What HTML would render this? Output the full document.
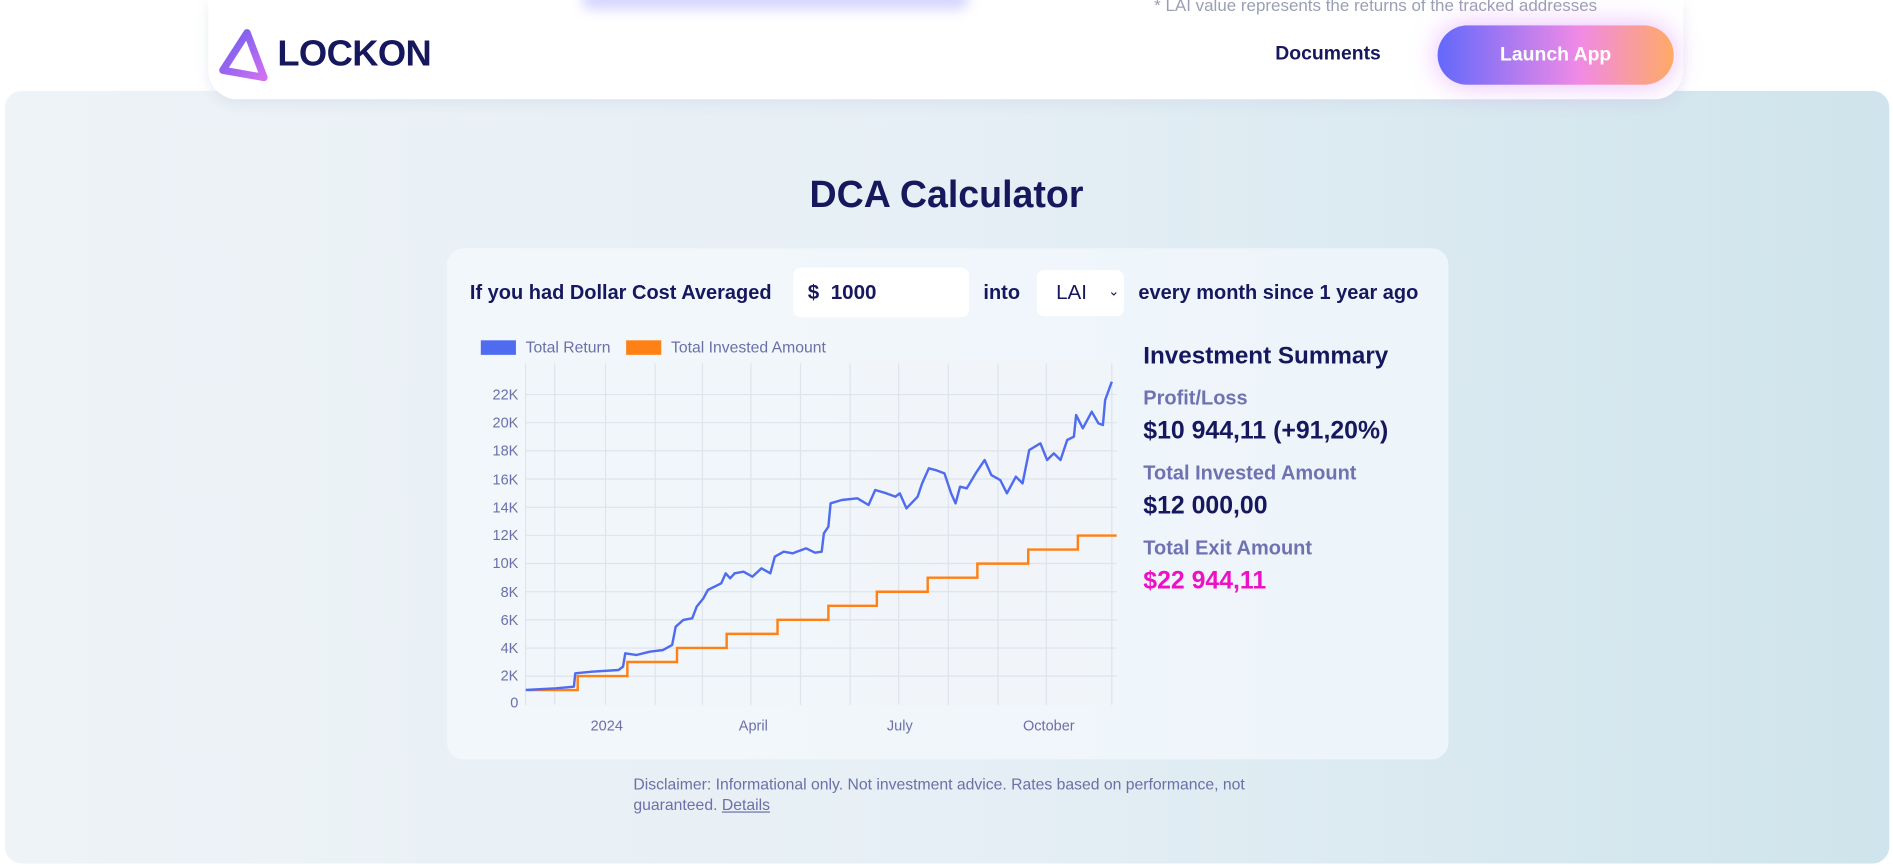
<!DOCTYPE html>
<html><head><meta charset="utf-8">
<style>
html,body{margin:0;padding:0;width:1893px;height:866px;overflow:hidden;background:#fff;font-family:"Liberation Sans",sans-serif;}
#w{position:absolute;left:0;top:0;width:1563px;height:715px;transform:scale(1.2111);transform-origin:0 0;}
.a{position:absolute;white-space:nowrap;}
.navy{color:#16185e;}
</style></head><body><div id="w">
<div class="a" style="left:4px;top:75px;width:1556px;height:638px;border-radius:14px;background:linear-gradient(90deg,#eef3f7 0%,#e6eff5 50%,#cfe4ec 100%);"></div>
<div class="a" style="left:172px;top:0;width:1218px;height:82px;border-radius:0 0 24px 24px;background:#fff;box-shadow:0 4px 10px rgba(200,210,230,0.4);"></div>
<div class="a" style="left:480px;top:-10px;width:320px;height:18px;border-radius:20px;background:#d6d6ff;filter:blur(5px);"></div>
<div class="a" style="left:953px;top:-4px;font-size:14px;color:#9aa0b4;">* LAI value represents the returns of the tracked addresses</div>
<svg class="a" style="left:180px;top:24px" width="46" height="44" viewBox="0 0 46 44"><defs><linearGradient id="lg" x1="0" y1="0" x2="1" y2="1"><stop offset="0" stop-color="#6b5cf0"/><stop offset="1" stop-color="#d070f0"/></linearGradient></defs><path d="M24 3 L4 34 L38 40 Z" fill="none" stroke="url(#lg)" stroke-width="6" stroke-linejoin="round"/></svg>
<div class="a navy" style="left:229px;top:28px;font-size:30px;font-weight:bold;letter-spacing:-0.5px;">LOCKON</div>
<div class="a navy" style="left:1053px;top:36px;font-size:16px;font-weight:bold;">Documents</div>
<div class="a" style="left:1187px;top:21px;width:195px;height:49px;border-radius:25px;background:linear-gradient(90deg,#6368fb,#f08ae6 60%,#ffaa66);box-shadow:0 0 22px rgba(220,140,255,0.6);color:#fff;font-size:16px;font-weight:bold;text-align:center;line-height:49px;">Launch App</div>
<div class="a navy" style="left:0;width:1563px;text-align:center;top:143px;font-size:31px;font-weight:bold;">DCA Calculator</div>
<div class="a" style="left:369px;top:205px;width:827px;height:422px;border-radius:14px;background:rgba(245,249,253,0.7);"></div>
<div class="a navy" style="left:388px;top:233px;font-size:16.5px;font-weight:bold;">If you had Dollar Cost Averaged</div>
<div class="a" style="left:655px;top:221px;width:145px;height:41px;border-radius:6px;background:#fff;"></div>
<div class="a navy" style="left:667px;top:232px;font-size:17px;font-weight:bold;">$&nbsp; 1000</div>
<div class="a navy" style="left:812px;top:233px;font-size:16.5px;font-weight:bold;">into</div>
<div class="a" style="left:856px;top:223px;width:72px;height:38px;border-radius:6px;background:#fff;"></div>
<div class="a navy" style="left:872px;top:232px;font-size:17px;">LAI</div>
<div class="a navy" style="left:915px;top:234px;font-size:11px;">&#8964;</div>
<div class="a navy" style="left:940px;top:233px;font-size:16.5px;font-weight:bold;">every month since 1 year ago</div>
<div class="a" style="left:397px;top:281px;width:29px;height:12px;background:#4f6cf0;"></div>
<div class="a" style="left:434px;top:279px;font-size:13px;color:#6b70a8;">Total Return</div>
<div class="a" style="left:517px;top:281px;width:29px;height:12px;background:#ff8014;"></div>
<div class="a" style="left:554px;top:279px;font-size:13px;color:#6b70a8;">Total Invested Amount</div>
<svg class="a" style="left:0;top:0" width="1563" height="715">
<rect x="436" y="297" width="486" height="286" fill="#f1f5f9" opacity="0.7"/>
<g stroke="#dfe4ea" stroke-width="1">
<line x1="434" y1="325.8" x2="922" y2="325.8"/><line x1="434" y1="349" x2="922" y2="349"/><line x1="434" y1="372.3" x2="922" y2="372.3"/><line x1="434" y1="395.5" x2="922" y2="395.5"/><line x1="434" y1="418.8" x2="922" y2="418.8"/><line x1="434" y1="442" x2="922" y2="442"/><line x1="434" y1="465.3" x2="922" y2="465.3"/><line x1="434" y1="488.6" x2="922" y2="488.6"/><line x1="434" y1="511.8" x2="922" y2="511.8"/><line x1="434" y1="535.1" x2="922" y2="535.1"/><line x1="434" y1="558.3" x2="922" y2="558.3"/>
<line x1="434" y1="300" x2="434" y2="582"/><line x1="458" y1="300" x2="458" y2="582"/><line x1="500" y1="300" x2="500" y2="582"/><line x1="541" y1="300" x2="541" y2="582"/><line x1="580" y1="300" x2="580" y2="582"/><line x1="620" y1="300" x2="620" y2="582"/><line x1="661" y1="300" x2="661" y2="582"/><line x1="702" y1="300" x2="702" y2="582"/><line x1="742" y1="300" x2="742" y2="582"/><line x1="783" y1="300" x2="783" y2="582"/><line x1="824" y1="300" x2="824" y2="582"/><line x1="864" y1="300" x2="864" y2="582"/><line x1="918" y1="300" x2="918" y2="582"/>
</g>
<g font-family="Liberation Sans,sans-serif" font-size="12" fill="#6b70a8" text-anchor="end">
<text x="428" y="330">22K</text><text x="428" y="353">20K</text><text x="428" y="376">18K</text><text x="428" y="400">16K</text><text x="428" y="423">14K</text><text x="428" y="446">12K</text><text x="428" y="469">10K</text><text x="428" y="493">8K</text><text x="428" y="516">6K</text><text x="428" y="539">4K</text><text x="428" y="562">2K</text><text x="428" y="584">0</text>
</g>
<g font-family="Liberation Sans,sans-serif" font-size="12" fill="#6b70a8" text-anchor="middle">
<text x="501" y="603">2024</text><text x="622" y="603">April</text><text x="743" y="603">July</text><text x="866" y="603">October</text>
</g>
<polyline fill="none" stroke="#ff8014" stroke-width="2" points="436,569.8 477,569.8 477,558.2 518,558.2 518,546.6 559,546.6 559,535 600,535 600,523.4 642,523.4 642,511.8 684,511.8 684,500.2 724,500.2 724,488.6 766,488.6 766,477 807,477 807,465.4 849,465.4 849,453.8 890,453.8 890,442.2 922,442.2"/>
<g transform="translate(363.3,198.2) scale(0.3686,0.2752)">
<polyline fill="none" stroke="#4f6cf0" stroke-width="2" vector-effect="non-scaling-stroke" stroke-linejoin="round" points="192,1350 260,1345 300,1340 303,1300 340,1295 400,1290 410,1280 415,1240 440,1245 470,1235 500,1230 520,1215 528,1160 545,1140 565,1135 575,1100 590,1075 600,1050 630,1030 640,1000 650,1015 660,1000 680,995 700,1010 720,985 740,1000 750,950 770,935 790,940 800,935 820,925 840,938 855,935 860,880 870,860 875,790 900,780 935,775 960,795 975,750 1000,760 1020,770 1030,760 1045,805 1070,770 1080,730 1095,685 1110,690 1130,700 1145,760 1155,790 1165,740 1180,745 1200,700 1220,660 1235,705 1255,720 1270,760 1290,710 1305,730 1320,630 1345,610 1360,660 1375,640 1390,660 1405,600 1420,590 1425,525 1440,565 1460,515 1475,550 1485,555 1490,480 1505,425"/>
</g>
</svg>
<div class="a navy" style="left:944px;top:283px;font-size:20px;font-weight:bold;">Investment Summary</div>
<div class="a" style="left:944px;top:320px;font-size:16.5px;font-weight:bold;color:#6f72b0;">Profit/Loss</div>
<div class="a navy" style="left:944px;top:344px;font-size:20.5px;font-weight:bold;">$10 944,11 (+91,20%)</div>
<div class="a" style="left:944px;top:382px;font-size:16.5px;font-weight:bold;color:#6f72b0;">Total Invested Amount</div>
<div class="a navy" style="left:944px;top:406px;font-size:20.5px;font-weight:bold;">$12 000,00</div>
<div class="a" style="left:944px;top:444px;font-size:16.5px;font-weight:bold;color:#6f72b0;">Total Exit Amount</div>
<div class="a" style="left:944px;top:468px;font-size:20.5px;font-weight:bold;color:#ee11c4;">$22 944,11</div>
<div class="a" style="left:523px;top:639px;font-size:13px;color:#6b70a8;line-height:17px;white-space:normal;width:530px;">Disclaimer: Informational only. Not investment advice. Rates based on performance, not guaranteed. <u>Details</u></div>
</div></body></html>
